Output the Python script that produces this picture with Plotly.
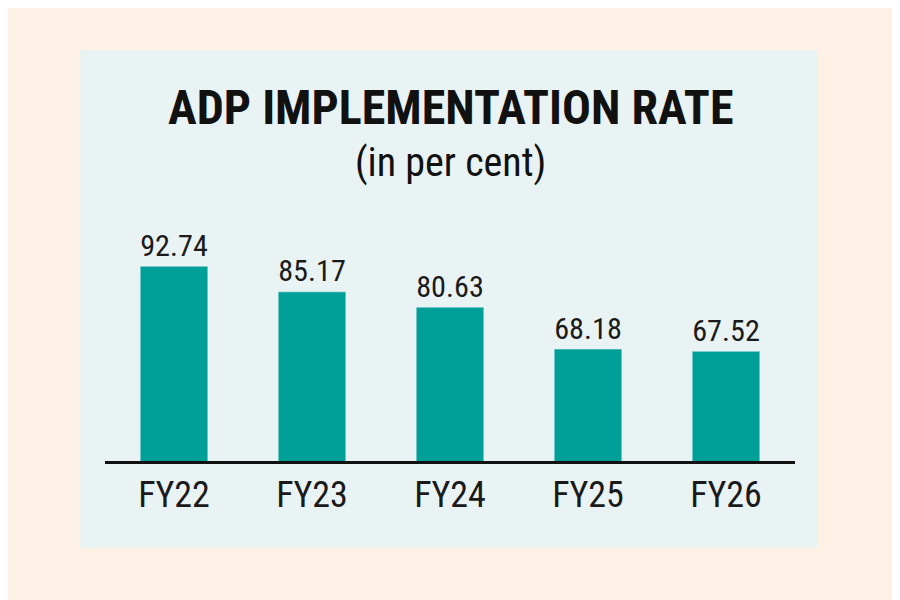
import plotly.graph_objects as go

categories = ["FY22", "FY23", "FY24", "FY25", "FY26"]
values = [92.74, 85.17, 80.63, 68.18, 67.52]
labels = ["92.74", "85.17", "80.63", "68.18", "67.52"]

FONT = "Liberation Sans Narrow, Roboto Condensed, Arial Narrow, sans-serif"

fig = go.Figure(go.Bar(
    x=categories, y=values, text=labels, textposition="outside",
    marker_color="#00a098", width=0.49, cliponaxis=False,
    textfont=dict(family=FONT, size=36, color="#1a1a1a"),
))

fig.update_layout(
    width=900, height=600,
    paper_bgcolor="#fdf0e5", plot_bgcolor="rgba(0,0,0,0)",
    margin=dict(l=97, r=113, t=192, b=147),
    showlegend=False,
    xaxis=dict(showline=True, linecolor="#111", linewidth=2.5, ticks="",
               tickfont=dict(family=FONT, size=36, color="#1a1a1a")),
    yaxis=dict(range=[35, 112.4], visible=False, showgrid=False),
    shapes=[dict(type="rect", xref="paper", yref="paper", x0=-0.036, x1=1.033,
                 y0=-0.333, y1=1.575, fillcolor="#e9f3f3", line_width=0, layer="below")],
    annotations=[
        dict(text="<b>ADP IMPLEMENTATION RATE</b>", xref="paper", yref="paper",
             x=0.5, y=(461-108)/261, yanchor="middle", showarrow=False,
             font=dict(family=FONT, size=48, color="#111")),
        dict(text="(in per cent)", xref="paper", yref="paper",
             x=0.5, y=(461-163)/261, yanchor="middle", showarrow=False,
             font=dict(family=FONT, size=40, color="#111")),
    ],
)
fig.write_html("out.html")
